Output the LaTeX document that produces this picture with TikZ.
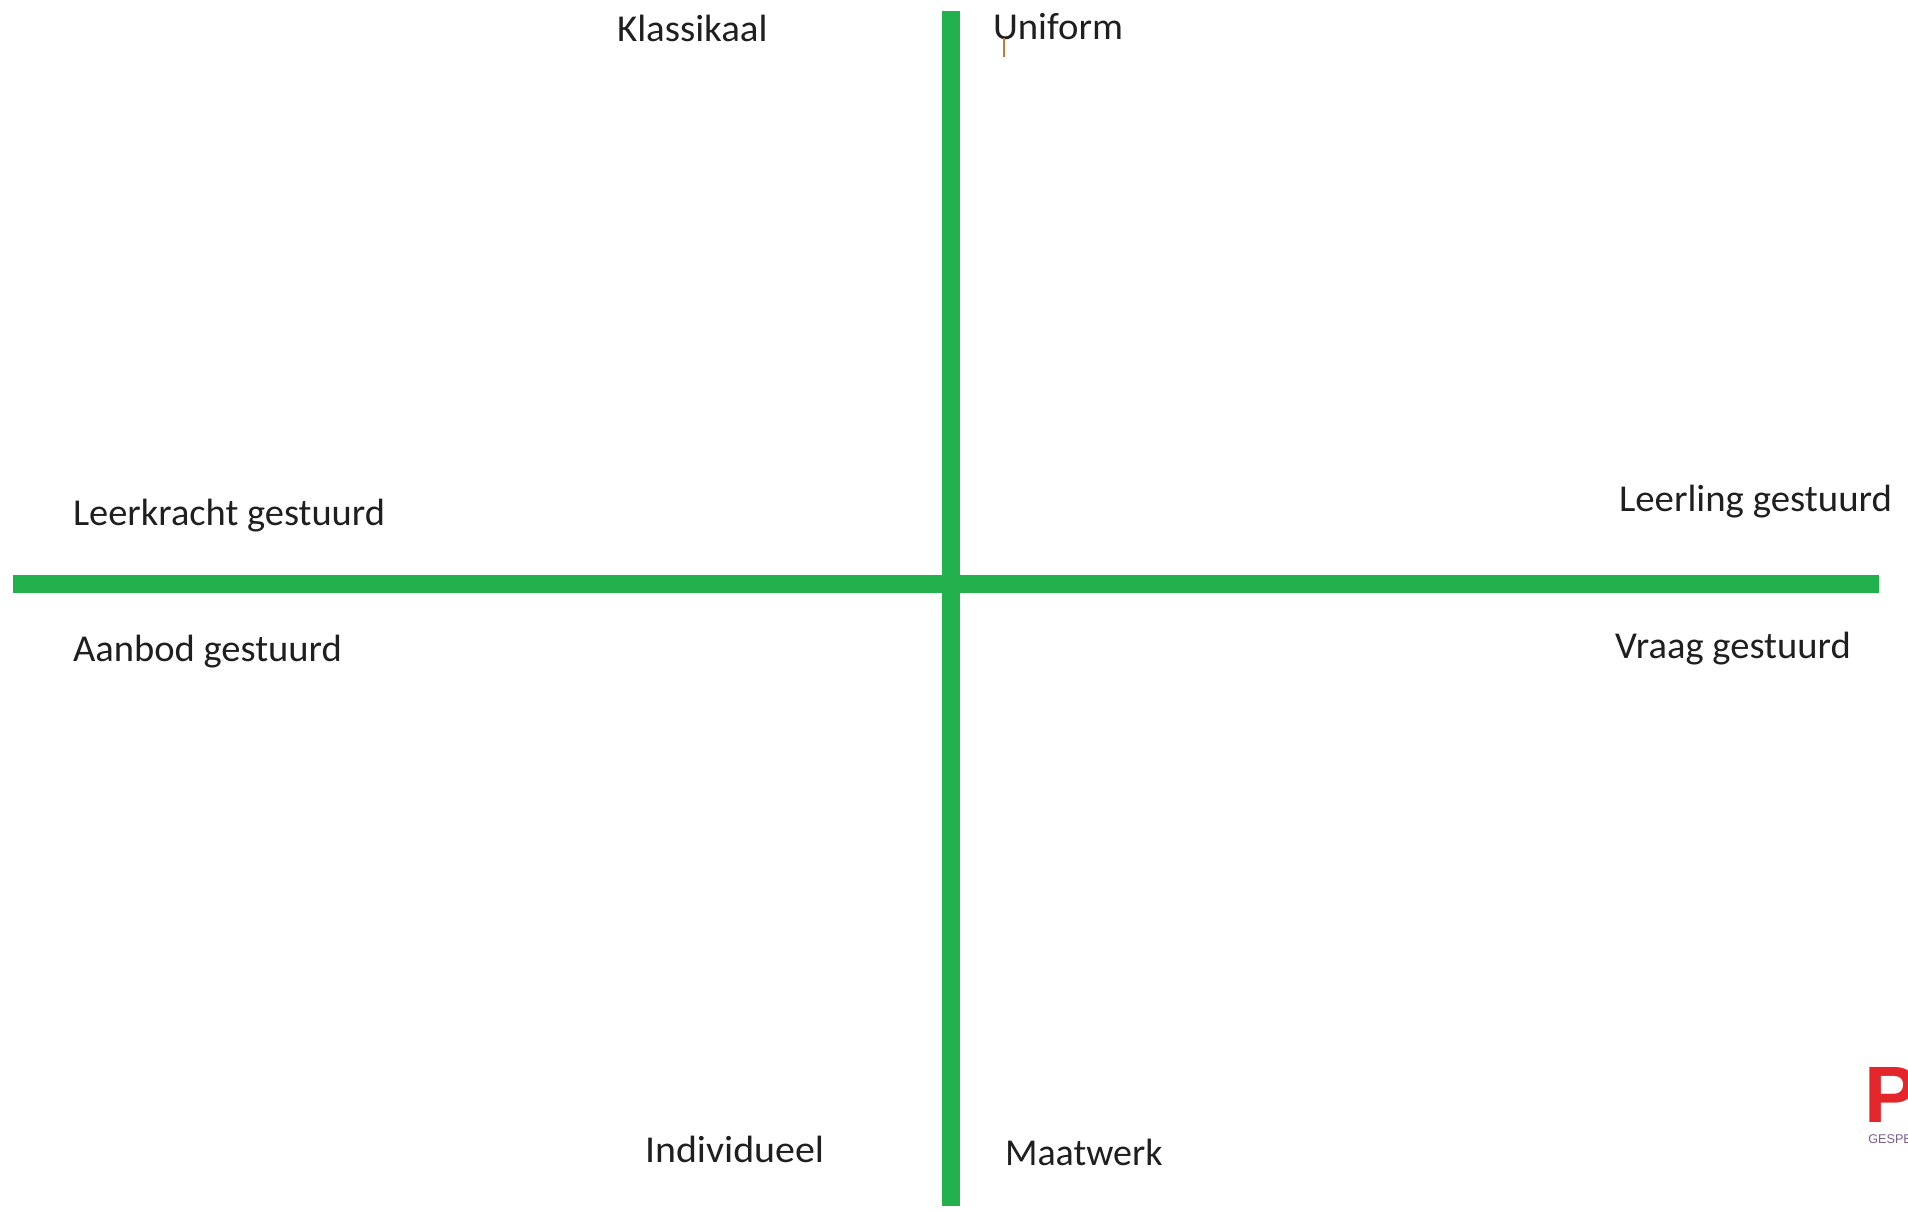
\documentclass[tikz,border=0pt]{standalone}
\usepackage{fontspec}
\setmainfont{Carlito}
\newfontfamily\logofont{Liberation Sans}
\definecolor{axisgreen}{HTML}{22B14C}
\definecolor{logored}{HTML}{E3262B}
\definecolor{logopurple}{HTML}{7A5F8E}
\definecolor{tickbrown}{HTML}{C07A3A}
\tikzset{
  axis/.style={draw=axisgreen,line width=13.0pt},
  lbl/.style={anchor=base west,inner sep=0pt,outer sep=0pt,text=black!88,font=\fontsize{28.5pt}{32pt}\selectfont},
}
\begin{document}
\begin{tikzpicture}[x=0.75pt,y=-0.75pt]
\useasboundingbox (0,0) rectangle (1908,1211);
\clip (0,0) rectangle (1908,1211);
\coordinate (vtop) at (951,11);
\coordinate (vbot) at (951,1206);
\coordinate (hleft) at (13,584);
\coordinate (hright) at (1879,584);
\draw[axis] (vtop) -- (vbot);
\draw[axis] (hleft) -- (hright);
\node[lbl,xscale=1.025] (klassikaal) at (617,41) {Klassikaal};
\node[lbl,xscale=1.02] (uniform) at (993,39) {Uniform};
\node[lbl,xscale=1.012] (leerkracht) at (73,525) {Leerkracht gestuurd};
\node[lbl,xscale=1.022] (leerling) at (1619,511) {Leerling gestuurd};
\node[lbl,xscale=1.015] (aanbod) at (73,661) {Aanbod gestuurd};
\node[lbl,xscale=1.015] (vraag) at (1615,658) {Vraag gestuurd};
\node[lbl,xscale=1.05] (individueel) at (645,1162) {Individueel};
\node[lbl] (maatwerk) at (1005,1165) {Maatwerk};
\coordinate (ticktop) at (1004,38);
\coordinate (tickbot) at (1004,57);
\draw[tickbrown,line width=1.5pt] (ticktop) -- (tickbot);
\node[anchor=base west,inner sep=0pt,text=logored,font=\logofont\bfseries\fontsize{60pt}{64pt}\selectfont] (logop) at (1864,1122) {P};
\node[anchor=base west,inner sep=0pt,text=logopurple,font=\logofont\fontsize{9.5pt}{11pt}\selectfont] (logot) at (1868,1143) {GESPE};
\end{tikzpicture}
\end{document}
